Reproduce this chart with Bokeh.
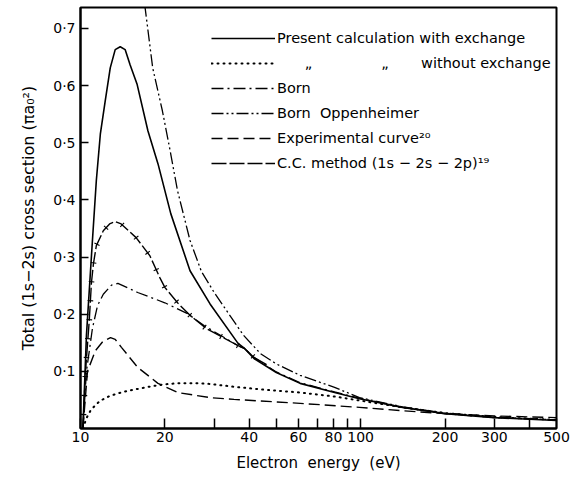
import numpy as np
from bokeh.plotting import figure
from bokeh.models import Range1d, FixedTicker, Legend, LegendItem
from bokeh.embed import file_html
from bokeh.resources import INLINE

# ---------------- data ----------------
energy_ticks = [10, 20, 30, 40, 50, 60, 70, 80, 90, 100, 200, 300, 400, 500]
energy_labels = ["10", "20", "", "40", "", "60", "", "80", "", "100", "200", "300", "", "500"]
cs_ticks = [0.1, 0.2, 0.3, 0.4, 0.5, 0.6, 0.7]
cs_labels = ["0·1", "0·2", "0·3", "0·4", "0·5", "0·6", "0·7"]

# Present calculation with exchange
present_e = [10.2, 10.5, 11.03, 11.39, 11.77, 12.25, 12.77, 13.3, 13.86, 14.43, 15.04, 15.91, 17.4, 18.91,
             21.0, 24.6, 29.0, 36.5, 38.5, 41.7, 50, 60.8, 80.7, 99, 141, 200, 300, 500]
present_q = [0, 0.163, 0.329, 0.434, 0.515, 0.573, 0.631, 0.663, 0.668, 0.663, 0.636, 0.603, 0.521, 0.463,
             0.376, 0.276, 0.218, 0.149, 0.140, 0.122, 0.098, 0.079, 0.063, 0.052, 0.037, 0.026, 0.019, 0.014]

# Present calculation without exchange
noex_e = [10.2, 10.5, 10.85, 11.3, 11.8, 12.6, 13.5, 14.8, 16.3, 18.0, 19.7, 22.0, 26.3, 29.0, 35.3, 45,
          60.8, 80.7, 99, 141, 200, 300, 500]
noex_q = [0, 0.018, 0.031, 0.041, 0.049, 0.056, 0.061, 0.066, 0.070, 0.074, 0.077, 0.079, 0.079, 0.078,
          0.073, 0.068, 0.063, 0.056, 0.049, 0.037, 0.027, 0.020, 0.015]

# Born
born_e = [10.2, 10.5, 11.03, 11.5, 12.06, 12.9, 13.6, 16.0, 20.0, 24.1, 27.6, 36.5, 38.5, 41.7, 50, 60.8,
          80.7, 99, 141, 200, 300, 500]
born_q = [0, 0.10, 0.175, 0.215, 0.235, 0.251, 0.254, 0.238, 0.220, 0.201, 0.180, 0.145, 0.140, 0.124,
          0.099, 0.080, 0.064, 0.053, 0.037, 0.026, 0.019, 0.015]

# Born Oppenheimer
bo_e = [16.5, 17.0, 18.1, 19.6, 20.8, 22.2, 24.6, 27.0, 30.0, 36.5, 38.2, 43.9, 50, 60.8, 80.7, 99, 141,
        200, 300, 500]
bo_q = [0.785, 0.737, 0.631, 0.556, 0.491, 0.416, 0.329, 0.275, 0.238, 0.177, 0.163, 0.131, 0.113, 0.093,
        0.072, 0.054, 0.038, 0.027, 0.020, 0.015]

# Experimental curve
exp_e = [10.2, 10.59, 11.3, 12.0, 12.8, 13.3, 14.0, 16.0, 18.9, 22.2, 29.0, 35.3, 60.8, 99, 141, 200, 300, 500]
exp_q = [0, 0.10, 0.136, 0.152, 0.159, 0.156, 0.142, 0.107, 0.079, 0.063, 0.054, 0.051, 0.044, 0.037,
         0.031, 0.026, 0.022, 0.019]

# C.C. method (1s-2s-2p)
cc_e = [10.2, 10.42, 10.75, 10.94, 11.12, 11.39, 12.06, 12.7, 13.3, 13.97, 15.79, 17.7, 19.19, 20.0, 22.2,
        24.6, 28.1, 36.5, 38.5, 41.7, 46.8]
cc_q = [0, 0.10, 0.19, 0.255, 0.288, 0.320, 0.346, 0.358, 0.362, 0.358, 0.334, 0.302, 0.264, 0.247, 0.220,
        0.198, 0.175, 0.145, 0.140, 0.124, 0.110]

# ---------------- figure ----------------
FW, FH = 476, 421
X0, X1 = 10, 500
Y0, Y1 = 0, 0.7367
FONT = "DejaVu Sans"

p = figure(frame_width=FW, frame_height=FH, x_axis_type="log",
           x_range=Range1d(X0, X1), y_range=Range1d(Y0, Y1),
           output_backend="svg", toolbar_location=None,
           min_border_left=80, min_border_right=20, min_border_top=7, min_border_bottom=50)

p.xgrid.visible = False
p.ygrid.visible = False
p.outline_line_color = "black"
p.outline_line_width = 2
p.outline_line_alpha = 1
p.background_fill_color = "white"
p.border_fill_color = "white"

p.xaxis.ticker = FixedTicker(ticks=energy_ticks)
p.xaxis.major_label_overrides = dict(zip(energy_ticks, energy_labels))
p.yaxis.ticker = FixedTicker(ticks=cs_ticks)
p.yaxis.major_label_overrides = dict(zip(cs_ticks, cs_labels))

for ax in (p.xaxis, p.yaxis):
    ax.axis_line_width = 2
    ax.axis_line_color = "black"
    ax.major_tick_out = 0
    ax.minor_tick_line_color = None
    ax.major_tick_line_color = "black"
    ax.major_tick_line_width = 1.5
    ax.major_label_text_font = FONT
    ax.major_label_text_font_size = "14px"
    ax.major_label_text_color = "black"
    ax.axis_label_text_font = FONT
    ax.axis_label_text_font_style = "normal"
    ax.axis_label_text_color = "black"

p.xaxis.major_tick_in = 10
p.yaxis.major_tick_in = 8
p.xaxis.major_label_standoff = 3
p.yaxis.major_label_standoff = 5

p.xaxis.axis_label = "Electron\u00a0\u00a0energy\u00a0\u00a0(eV)"
p.xaxis.axis_label_text_font_size = "15px"
p.xaxis.axis_label_standoff = 9
p.yaxis.axis_label = "Total (1s\u22122s) cross section (\u03c0a\u2080\u00b2)"
p.yaxis.axis_label_text_font_size = "16px"
p.yaxis.axis_label_standoff = 12

# ---------------- curves ----------------
r_present = p.line(present_e, present_q, line_color="black", line_width=1.6)
r_noex = p.line(noex_e, noex_q, line_color="black", line_width=2, line_dash="1 5", line_cap="round")
r_born = p.line(born_e, born_q, line_color="black", line_width=1.3, line_dash="12 4 2 4")
r_bo = p.line(bo_e, bo_q, line_color="black", line_width=1.3, line_dash="12 3 2 3 2 3")
r_exp = p.line(exp_e, exp_q, line_color="black", line_width=1.4, line_dash="11 5")
r_cc = p.line(cc_e, cc_q, line_color="black", line_width=1.4, line_dash="15 3")

# small perpendicular ticks along the C.C. curve (every ~19 screen px)
lx0, lx1 = np.log10(X0), np.log10(X1)
sx = FW * (np.log10(cc_e) - lx0) / (lx1 - lx0)
sy = FH * (np.asarray(cc_q) - Y0) / (Y1 - Y0)
seg = np.hypot(np.diff(sx), np.diff(sy))
s = np.concatenate([[0.0], np.cumsum(seg)])
marks = np.arange(14.0, s[-1] - 6, 19.0)
tx = np.interp(marks, s, sx)
ty = np.interp(marks, s, sy)
idx = np.clip(np.searchsorted(s, marks) - 1, 0, len(seg) - 1)
ux = np.diff(sx)[idx] / seg[idx]
uy = np.diff(sy)[idx] / seg[idx]
nx, ny = -uy, ux
half = 2.8


def back(xs, ys):
    return 10 ** (lx0 + xs / FW * (lx1 - lx0)), Y0 + ys / FH * (Y1 - Y0)


ax0, ay0 = back(tx - nx * half, ty - ny * half)
ax1, ay1 = back(tx + nx * half, ty + ny * half)
p.segment(ax0, ay0, ax1, ay1, line_color="black", line_width=1.1)

cc_key = p.scatter(x=[], y=[], marker="cross", size=6, line_color="black", line_width=1.1)

# ---------------- legend ----------------
nb = "\u00a0"
items = [
    LegendItem(label="Present calculation with exchange", renderers=[r_present]),
    LegendItem(label=nb * 6 + "\u201e" + nb * 15 + "\u201e" + nb * 7 + "without exchange", renderers=[r_noex]),
    LegendItem(label="Born", renderers=[r_born]),
    LegendItem(label="Born" + nb + nb + "Oppenheimer", renderers=[r_bo]),
    LegendItem(label="Experimental curve\u00b2\u2070", renderers=[r_exp]),
    LegendItem(label="C.C. method (1s \u2212 2s \u2212 2p)\u00b9\u2079", renderers=[r_cc, cc_key]),
]
legend = Legend(items=items, location=(131, 255), glyph_width=64, glyph_height=20, label_height=20,
                spacing=5, padding=0, margin=0, label_standoff=2, border_line_color=None,
                background_fill_alpha=0, label_text_font=FONT, label_text_font_size="14.5px",
                label_text_color="black")
p.add_layout(legend)

open("out.html", "w").write(file_html(p, INLINE))
